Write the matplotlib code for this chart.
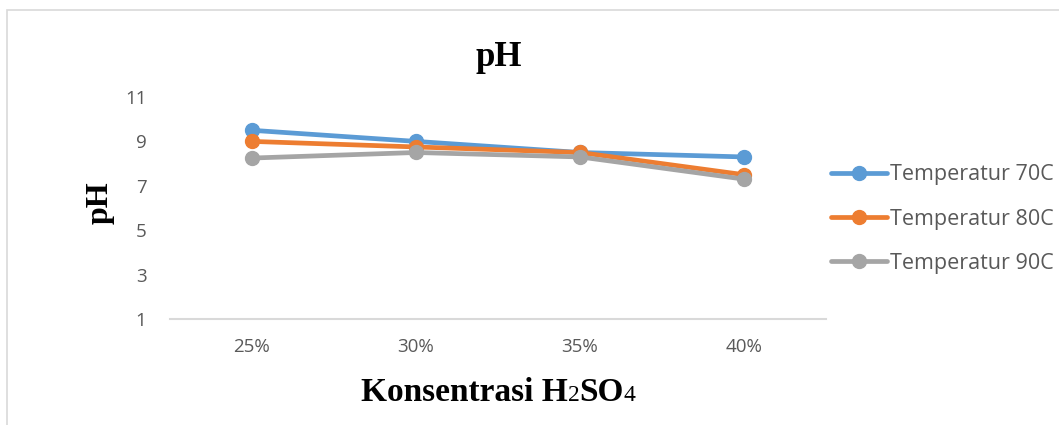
import matplotlib.pyplot as plt
from matplotlib.patches import Rectangle

# pH readings for each H2SO4 concentration
konsentrasi = ['25%', '30%', '35%', '40%']
ph_70 = [9.5, 9.0, 8.5, 8.3]
ph_80 = [9.0, 8.75, 8.5, 7.5]
ph_90 = [8.25, 8.5, 8.3, 7.3]
series_names = ['Temperatur 70C', 'Temperatur 80C', 'Temperatur 90C']
yticks = [1, 3, 5, 7, 9, 11]

colors = ['#5B9BD5', '#ED7D31', '#A5A5A5']
tick_font = 'Open Sans'
serif = 'Liberation Serif'

W, H = 1059, 425
fig = plt.figure(figsize=(W / 100, H / 100), dpi=100)

# chart area border (partly runs off the page)
fig.patches.append(Rectangle((7 / W, -0.05), 1.2, 1 - 10 / H + 0.05,
                             transform=fig.transFigure, fill=False,
                             edgecolor='#d9d9d9', linewidth=1.2))

ax = fig.add_axes([170 / W, (H - 319) / H, 656 / W, (319 - 97) / H])
x = list(range(len(konsentrasi)))
for vals, c, name in zip([ph_70, ph_80, ph_90], colors, series_names):
    ax.plot(x, vals, color=c, linewidth=3.4, marker='o', markersize=10,
            label=name, solid_capstyle='round')

ax.set_xlim(-0.5, len(konsentrasi) - 0.5)
ax.set_ylim(1, 11)
ax.set_yticks(yticks)
ax.set_xticks(x)
ax.set_xticklabels(konsentrasi)
for s in ['top', 'right', 'left']:
    ax.spines[s].set_visible(False)
ax.spines['bottom'].set_color('#d9d9d9')
ax.spines['bottom'].set_linewidth(1.5)
ax.tick_params(axis='both', length=0, labelsize=13.5, labelcolor='#595959')
ax.tick_params(axis='y', pad=17)
ax.tick_params(axis='x', pad=14)
for lab in ax.get_xticklabels() + ax.get_yticklabels():
    lab.set_fontfamily(tick_font)

leg = ax.legend(loc='center left', bbox_to_anchor=(1.0, 0.45), frameon=False,
                prop={'family': tick_font, 'size': 15.5}, handlelength=2.6,
                handletextpad=0.15, labelspacing=1.08, borderaxespad=0,
                borderpad=0.22)
for t in leg.get_texts():
    t.set_color('#595959')

fig.text(499 / W, 1 - 57 / H, 'pH', ha='center', va='center',
         family=serif, fontweight='bold', fontsize=25)
fig.text(100 / W, 1 - 203 / H, 'pH', ha='center', va='center', rotation=90,
         family=serif, fontweight='bold', fontsize=23)

# x label with smaller, regular-weight digits in H2SO4
pieces = [('Konsentrasi H', 24, 'bold'), ('2', 17, 'normal'),
          ('SO', 24, 'bold'), ('4', 17, 'normal')]
fig.canvas.draw()
renderer = fig.canvas.get_renderer()
texts = []
for s, size, weight in pieces:
    t = fig.text(0, 0, s, family=serif, fontweight=weight, fontsize=size,
                 va='baseline', ha='left')
    texts.append(t)
widths = [t.get_window_extent(renderer).width for t in texts]
total = sum(widths)
xpos = 498.5 - total / 2
base = H - 401
for t, w in zip(texts, widths):
    t.set_position((xpos / W, base / H))
    xpos += w

fig.savefig('out.png', dpi=100)
